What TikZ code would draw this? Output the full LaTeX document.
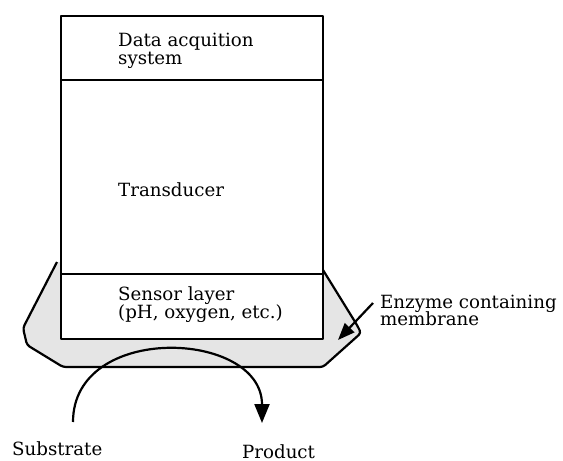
\documentclass[tikz,border=0pt]{standalone}
\usepackage{fontspec}
\setmainfont{DejaVu Serif}
\usetikzlibrary{arrows.meta}
\begin{document}
\begin{tikzpicture}[x=1pt,y=-1pt,
  outline/.style={line width=2.2pt,line join=round},
  layerbox/.style={outline,draw=black,fill=white,minimum width=262pt,inner sep=0pt,anchor=north west},
  txt/.style={anchor=base west,inner sep=0pt,font=\fontsize{18.2}{20}\selectfont},
  bigtip/.style={-{Triangle[length=19pt,width=15pt]}}]
\useasboundingbox (0,0) rectangle (563,461);

% enzyme membrane around the lower end of the probe
\draw[outline,fill=black!10,rounded corners=3pt]
  (57,262) -- (23,328) -- (27,345) -- (63,367) -- (323,367) -- (361,333) -- (357,325) -- (323,270);

% stacked layers of the probe
\node[layerbox,minimum height=64pt] (daq) at (60,15) {};
\node[layerbox,minimum height=194pt] (trans) at (60,79) {};
\node[layerbox,minimum height=65pt] (sensor) at (60,273) {};

\node[txt] (daqt1) at (118,46) {Data acquition};
\node[txt] (daqt2) at (118,64) {system};
\node[txt] (transt) at (118,196) {Transducer};
\node[txt] (sent1) at (118,300) {Sensor layer};
\node[txt] (sent2) at (118,318) {(pH, oxygen, etc.)};

% labels outside
\node[txt] (enz1) at (380,308) {Enzyme containing};
\node[txt] (enz2) at (380,325) {membrane};
\node[txt] (sub) at (12,455) {Substrate};
\node[txt] (prod) at (242,458) {Product};

\coordinate (arcstart) at (73,422);
\coordinate (arcend) at (262,423);
\coordinate (enztip) at (338,340);
\coordinate (enztail) at (373,303);

% conversion of substrate to product
\draw[line width=2.2pt,bigtip] (arcstart) .. controls (73,322) and (262,330) .. (arcend);
% pointer to the membrane
\draw[line width=2.2pt,-{Triangle[length=17pt,width=13pt]}] (enztail) -- (enztip);
\end{tikzpicture}
\end{document}
